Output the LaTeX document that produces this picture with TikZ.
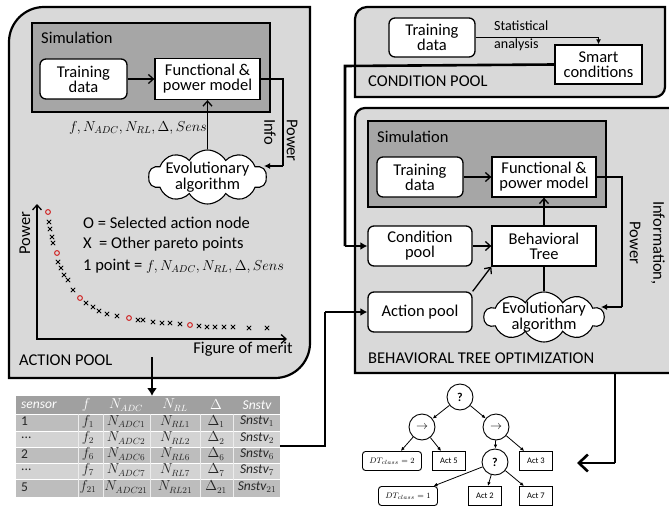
\documentclass[tikz,border=0pt]{standalone}
\usepackage{fontspec}
\setmainfont{Carlito}
\usetikzlibrary{arrows.meta,shapes.symbols,shapes.geometric}
\definecolor{panelgray}{HTML}{D9D9D9}
\definecolor{simgray}{HTML}{A6A6A6}
\definecolor{hdrgray}{HTML}{A0A0A0}
\definecolor{rowA}{HTML}{BDBDBD}
\definecolor{rowB}{HTML}{D3D3D3}
\definecolor{ptred}{HTML}{D02020}
\newcommand\fsA{\fontsize{16.5}{18}\selectfont}
\newcommand\fsM{\fontsize{14}{16}\selectfont}
\newcommand\fsS{\fontsize{14}{15}\selectfont}
\newcommand\fsTb{\fontsize{13.5}{14}\selectfont}
\newcommand\fsT{\fontsize{8.5}{9}\selectfont}
\newcommand\mydots{...}
\begin{document}
\begin{tikzpicture}[x=1pt,y=-1pt,
 panel/.style={draw, line width=2.2pt, fill=panelgray},
 simbox/.style={draw, line width=1.3pt, fill=simgray},
 rbox/.style={draw, line width=1.3pt, fill=white, rounded corners=6pt, align=center, inner sep=0pt, font=\fsA},
 sbox/.style={draw, line width=1.3pt, fill=white, align=center, inner sep=0pt, font=\fsA},
 evo/.style={cloud, cloud puffs=10, cloud puff arc=120, cloud ignores aspect, draw, line width=1.1pt, fill=white, inner sep=0pt, minimum width=118pt, minimum height=54pt},
 evotext/.style={align=center, font=\fsA, inner sep=0pt},
 conn/.style={line width=1.3pt, -{Straight Barb[length=5pt,width=9pt]}},
 connf/.style={line width=1.3pt, -{Latex[length=6pt,width=6pt]}},
 plain/.style={line width=1.3pt},
 bigconn/.style={line width=2.6pt, -{Latex[length=8pt,width=10pt]}},
 bigbarb/.style={line width=2.6pt, -{Straight Barb[length=9pt,width=17pt]}},
 tedge/.style={line width=0.8pt, -{Latex[length=4pt,width=3.5pt]}},
 tcirc/.style={circle, draw, line width=0.9pt, fill=white, minimum size=26pt, inner sep=0pt},
 tbox/.style={draw, line width=0.9pt, fill=white, minimum height=19pt, minimum width=33pt, inner sep=0pt, font=\fsT},
 txt/.style={inner sep=0pt, font=\fsA},
 tcell/.style={inner sep=0pt, font=\fsTb, text=black!85},
 thead/.style={inner sep=0pt, font=\fsTb\itshape, text=white},
 xmark/.style={line width=0.8pt},
 omark/.style={line width=1pt, draw=ptred}
]
\useasboundingbox (0,0) rectangle (669,508);

% ================= ACTION POOL =================
\draw[panel] (9,378) -- (9,42) .. controls (9,22.7) and (24.7,7) .. (44,7) -- (310,7) -- (310,343) .. controls (310,362.3) and (294.3,378) .. (275,378) -- cycle;
\draw[simbox] (32,23) rectangle (270,112);
\node[txt, anchor=west] (simA) at (41,38) {Simulation};
\node[rbox, minimum width=87pt, minimum height=40pt] (tdA) at (83.5,79) {Training\\[-3pt]data};
\node[sbox, minimum width=105pt, minimum height=41pt] (fpA) at (207.5,79) {Functional \&\\[-3pt]power model};
\node[evo] (evA) at (207.5,177) {};
\node[evotext] (evAt) at (207.5,177) {Evolutionary\\[-2pt]algorithm};
\coordinate (piA) at (283,166);
\coordinate (inA) at (264,166);
\draw[conn] (tdA) -- (fpA);
\draw[conn] (evA.north) -- (fpA.south);
\draw[plain] (fpA.east) -| (piA);
\draw[connf] (piA) -- (inA);
\node[inner sep=0pt, font=\fsM] (parA) at (138,128) {$f, N_{ADC}, N_{RL}, \Delta, Sens$};
\node[txt, rotate=-90, anchor=west] (powA) at (292,119) {Power};
\node[txt, rotate=-90, anchor=west] (infA) at (270,119) {Info};

% pareto plot
\draw[line width=1.3pt, {Straight Barb[length=5pt,width=9pt]}-{Straight Barb[length=5pt,width=9pt]}] (37,204) -- (37,339) -- (287,339);
\node[txt, rotate=90] (ylab) at (25,233) {Power};
\node[txt] (xlab) at (243,349) {Figure of merit};
\node[txt, anchor=west] (leg1) at (83,223) {O = Selected action node};
\node[txt, anchor=west] (leg2) at (83,244) {X\ \ = Other pareto points};
\node[txt, anchor=west] (leg3) at (83,266) {1 point = {\fsM$f, N_{ADC}, N_{RL}, \Delta, Sens$}};
\foreach \px/\py in {49/222,50/229,52/237,53/243,58/262,61/268,64/275,68/280,73/290,86/303,93/307,99/311,107/314,117/316,138/320,143/320,153/322,162/323,170/323,180/324,199/326,207/327,215/327,224/327,233/327,249/328,267/328}
  \draw[xmark] (\px-2.2,\py-2.2) -- (\px+2.2,\py+2.2) (\px-2.2,\py+2.2) -- (\px+2.2,\py-2.2);
\foreach \px/\py in {48/212,57/253,80/298,129/318,190/325}
  \draw[omark] (\px,\py) circle (2.4);
\node[txt, anchor=west] (apl) at (19,360) {ACTION POOL};

% ================= TABLE =================
\fill[hdrgray] (16,396) rectangle (280,414);
\fill[rowA] (16,414) rectangle (280,431);
\fill[rowB] (16,431) rectangle (280,447);
\fill[rowA] (16,447) rectangle (280,463);
\fill[rowB] (16,463) rectangle (280,479);
\fill[rowA] (16,479) rectangle (280,497);
\foreach \yy in {414,431,447,463,479} \draw[white, line width=0.8pt] (16,\yy) -- (280,\yy);
\foreach \xx in {78,103,150,200,233} \draw[white!85!gray, line width=0.5pt] (\xx,414) -- (\xx,497);
\node[thead, anchor=west] (h1) at (21,405) {sensor};
\node[thead] (h2) at (86,405) {$f$};
\node[thead] (h3) at (126,405) {$N_{ADC}$};
\node[thead] (h4) at (175,405) {$N_{RL}$};
\node[thead] (h5) at (216,405) {$\Delta$};
\node[thead] (h6) at (257,405) {Snstv};
\foreach \s/\k/\yy [count=\i] in {1/1/421.5, \mydots/2/438, 2/6/454, \mydots/7/470, 5/21/487} {
  \node[tcell, anchor=west] (r\i c1) at (21,\yy) {\s};
  \node[tcell] (r\i c2) at (88,\yy) {$f_{\k}$};
  \node[tcell] (r\i c3) at (126,\yy) {$N_{ADC\k}$};
  \node[tcell] (r\i c4) at (175,\yy) {$N_{RL\k}$};
  \node[tcell] (r\i c5) at (216,\yy) {$\Delta_{\k}$};
  \node[tcell] (r\i c6) at (257,\yy) {\itshape Snstv$_{\k}$};
}
\coordinate (tabR) at (280,446);
\coordinate (apOut) at (152,357);
\coordinate (tabTop) at (152,396);
\draw[bigconn] (apOut) -- (tabTop);

% ================= CONDITION POOL =================
\draw[panel] (355,97) -- (355,19) .. controls (355,12.4) and (360.4,7) .. (367,7) -- (665,7) -- (665,87) .. controls (665,92.5) and (660.5,97) .. (655,97) -- cycle;
\node[rbox, minimum width=86pt, minimum height=39pt] (tdC) at (432,37.5) {Training\\[-3pt]data};
\node[sbox, minimum width=87pt, minimum height=39pt] (scC) at (598.5,64.5) {Smart\\[-3pt]conditions};
\draw[line width=1pt, -{Latex[length=5pt,width=5pt]}] (tdC.east) -| (scC.north);
\node[inner sep=0pt, font=\fsS, anchor=west, align=left] (stat) at (494,36) {Statistical\\[3pt]analysis};
\node[txt, anchor=west] (cpl) at (368,81) {CONDITION POOL};

% ================= BT OPTIMIZATION =================
\draw[panel] (355,373) -- (355,118) .. controls (355,112.5) and (359.5,108) .. (365,108) -- (690,108) -- (690,373) -- cycle;
\draw[simbox] (368,121) rectangle (606,207);
\node[txt, anchor=west] (simB) at (377,137) {Simulation};
\node[rbox, minimum width=86pt, minimum height=40pt] (tdB) at (420,177) {Training\\[-3pt]data};
\node[sbox, minimum width=104pt, minimum height=40pt] (fpB) at (544,177) {Functional \&\\[-3pt]power model};
\node[rbox, minimum width=104pt, minimum height=40pt] (cpB) at (420,246) {Condition\\[-3pt]pool};
\node[sbox, minimum width=104pt, minimum height=40pt] (btB) at (544,246) {Behavioral\\[-3pt]Tree};
\node[rbox, minimum width=104pt, minimum height=40pt] (apB) at (420,312) {Action pool};
\node[evo, minimum width=120pt, minimum height=50pt] (evB) at (544,317) {};
\node[evotext] (evBt) at (544,317) {Evolutionary\\[-2pt]algorithm};
\draw[conn] (tdB) -- (fpB);
\draw[conn] (cpB) -- (btB);
\draw[conn] (apB.north east) -- (btB.south west);
\draw[conn] (btB) -- (fpB);
\draw[plain] (btB.south) -- (evB.north);
\coordinate (piB) at (622,307);
\coordinate (inB) at (601,307);
\draw[plain] (fpB.east) -| (piB);
\draw[connf] (piB) -- (inB);
\node[txt, rotate=-90] (infoB) at (658,243) {Information,};
\node[txt, rotate=-90] (powB) at (635,243) {Power};
\node[txt, anchor=west] (btl) at (368,358) {BEHAVIORAL TREE OPTIMIZATION};

% ================= long connectors =================
\coordinate (cpTurn) at (345,66);
\coordinate (cpDown) at (345,246);
\draw[line width=2.6pt] (scC.west) -- (cpTurn) -- (cpDown);
\draw[line width=2.6pt, -{Latex[length=7pt,width=8pt]}] (cpDown) -- (cpB.west);
\coordinate (tbA) at (325,446);
\coordinate (tbB) at (325,312);
\draw[line width=2.6pt] (tabR) -- (tbA) -- (tbB);
\draw[line width=2.6pt, -{Latex[length=7pt,width=8pt]}] (tbB) -- (apB.west);
\coordinate (btOut) at (615,373);
\coordinate (btTurn) at (615,463);
\coordinate (treeIn) at (577,463);
\draw[line width=2.6pt] (btOut) -- (btTurn);
\draw[bigbarb] (btTurn) -- (treeIn);

% ================= TREE =================
\node[tcirc, font=\bfseries\fontsize{12}{12}\selectfont] (rt) at (460,397) {?};
\node[tcirc, font=\fontsize{13}{13}\selectfont] (s1) at (422,427) {$\rightarrow$};
\node[tcirc, font=\fontsize{13}{13}\selectfont] (s2) at (496,427) {$\rightarrow$};
\node[tbox, rounded corners=3pt, minimum width=59pt] (dt2) at (392,461) {$DT_{class}=2$};
\node[tbox] (a5) at (449,461) {Act 5};
\node[tcirc, font=\bfseries\fontsize{12}{12}\selectfont] (q2) at (495,462) {?};
\node[tbox] (a3) at (536,461) {Act 3};
\node[tbox, rounded corners=3pt, minimum width=59pt] (dt1) at (408,496) {$DT_{class}=1$};
\node[tbox] (a2) at (485,496) {Act 2};
\node[tbox] (a7) at (536,496) {Act 7};
\draw[tedge] (rt) -- (s1);
\draw[tedge] (rt) -- (s2);
\draw[tedge] (s1) -- (dt2);
\draw[tedge] (s1) -- (a5);
\draw[tedge] (s2) -- (q2);
\draw[tedge] (s2) -- (a3);
\draw[tedge] (q2) -- (dt1);
\draw[tedge] (q2) -- (a2);
\draw[tedge] (q2) -- (a7);
\end{tikzpicture}
\end{document}
